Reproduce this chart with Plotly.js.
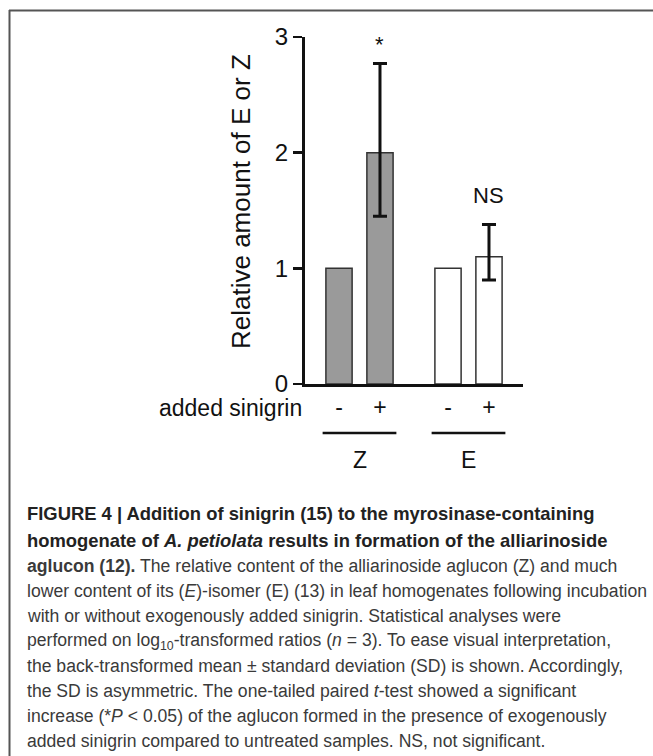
<!DOCTYPE html>
<html>
<head>
<meta charset="utf-8">
<script src="https://cdn.plot.ly/plotly-3.0.1.min.js"></script>
<style>html,body{margin:0;padding:0;background:#fff;}#chart{width:653px;height:756px;}</style>
</head>
<body>
<div id="chart"></div>
<script>
// ---- data ----
const groups = ["Z", "E"];
const treatments = ["-", "+"];
const zMeans = [1, 2.0];
const zUpper = [null, 2.77];
const zLower = [null, 1.45];
const eMeans = [1, 1.1];
const eUpper = [null, 1.38];
const eLower = [null, 0.90];
const zSig = ["", "*"];
const eSig = ["", "NS"];
const yTicks = [0, 1, 2, 3];
const xAxisLabel = "added sinigrin";
const yAxisTitle = "Relative amount of E or Z";
const captionLines = [
  "<b>FIGURE 4 | Addition of sinigrin (15) to the myrosinase-containing</b>",
  "<b>homogenate of <i>A. petiolata</i> results in formation of the alliarinoside</b>",
  "<b>aglucon (12).</b> The relative content of the alliarinoside aglucon (Z) and much",
  "lower content of its (<i>E</i>)-isomer (E) (13) in leaf homogenates following incubation",
  "with or without exogenously added sinigrin. Statistical analyses were",
  "performed on log<sub>10</sub>-transformed ratios (<i>n</i> = 3). To ease visual interpretation,",
  "the back-transformed mean ± standard deviation (SD) is shown. Accordingly,",
  "the SD is asymmetric. The one-tailed paired <i>t</i>-test showed a significant",
  "increase (*<i>P</i> &lt; 0.05) of the aglucon formed in the presence of exogenously",
  "added sinigrin compared to untreated samples. NS, not significant."
];

// ---- layout geometry ----
const FW = 653, FH = 756;
const L = 305, T = 37, R = 130, B = 372;
const PW = FW - L - R, PH = FH - T - B;
const px2x = p => (p - L) / PW;
const py2y = p => 1 - (p - T) / PH;

const groupStart = [0, 2.66];
const barW = 0.64;
const xs = g => treatments.map((t, i) => groupStart[g] + i);

const fontFam = "Liberation Sans, Arial, sans-serif";
const series = [
  { means: zMeans, up: zUpper, lo: zLower, sig: zSig, fill: "#9a9a9a" },
  { means: eMeans, up: eUpper, lo: eLower, sig: eSig, fill: "#ffffff" }
];

const traces = [];
const annotations = [];
series.forEach((s, g) => {
  s.means.forEach((m, i) => {
    const tr = { type: "bar", x: [xs(g)[i]], y: [m], width: barW,
      marker: { color: s.fill, line: { color: "#333", width: 1.5 } },
      hoverinfo: "none", showlegend: false };
    if (s.up[i] != null) {
      tr.error_y = { type: "data", symmetric: false, array: [s.up[i] - m], arrayminus: [m - s.lo[i]],
        color: "#111", thickness: 3, width: 7 };
    }
    traces.push(tr);
    if (s.sig[i]) {
      annotations.push({ x: xs(g)[i], y: (s.up[i] != null ? s.up[i] : m), xref: "x", yref: "y",
        yanchor: "middle", yshift: s.sig[i] === "*" ? 19 : 29, text: s.sig[i], showarrow: false,
        font: { family: fontFam, size: 22, color: "#111" } });
    }
  });
});
// group labels
groups.forEach((gname, g) => {
  const c = (xs(g)[0] + xs(g)[1]) / 2;
  annotations.push({ x: c, y: py2y(460), xref: "x", yref: "paper", xanchor: "center", yanchor: "middle",
    text: gname, showarrow: false, font: { family: fontFam, size: 23, color: "#111" } });
});
annotations.push({ x: px2x(304), y: py2y(408), xref: "paper", yref: "paper", xanchor: "right", yanchor: "middle",
  text: xAxisLabel, showarrow: false, font: { family: fontFam, size: 23, color: "#111" } });
annotations.push({ x: px2x(241), y: py2y(202), xref: "paper", yref: "paper", xanchor: "center", yanchor: "middle",
  textangle: -90, text: yAxisTitle, showarrow: false, font: { family: fontFam, size: 26, color: "#111" } });
// caption
const capY = [513, 540, 566, 591, 616, 641, 666, 691, 716, 741];
captionLines.forEach((t, i) => {
  annotations.push({ x: px2x(25), y: py2y(capY[i]), xref: "paper", yref: "paper",
    xanchor: "left", yanchor: "middle", align: "left", text: t, showarrow: false,
    font: { family: fontFam, size: i < 2 ? 18.4 : 17.6, color: i < 2 ? "#222" : "#3a3a3a" } });
});

// shapes: group underlines + frame
const shapes = [];
groups.forEach((gname, g) => {
  const c = (xs(g)[0] + xs(g)[1]) / 2;
  shapes.push({ type: "line", xref: "x", yref: "paper", x0: c - 0.9, x1: c + 0.9,
    y0: py2y(433), y1: py2y(433), line: { color: "#111", width: 2.5 } });
});
shapes.push({ type: "line", xref: "paper", yref: "paper", x0: px2x(9), x1: px2x(660),
  y0: py2y(10.5), y1: py2y(10.5), line: { color: "#555", width: 2 } });
shapes.push({ type: "line", xref: "paper", yref: "paper", x0: px2x(9.5), x1: px2x(9.5),
  y0: py2y(10), y1: py2y(760), line: { color: "#555", width: 2 } });

const layout = {
  width: FW, height: FH,
  margin: { l: L, r: R, t: T, b: B, pad: 0 },
  paper_bgcolor: "#fff", plot_bgcolor: "#fff",
  font: { family: fontFam, color: "#111" },
  barmode: "overlay",
  xaxis: {
    range: [-0.83, 4.49], tickvals: [...xs(0), ...xs(1)], ticktext: [...treatments, ...treatments],
    ticks: "", showline: true, linecolor: "#111", linewidth: 3, showgrid: false, zeroline: false,
    tickfont: { family: fontFam, size: 23, color: "#111" }, fixedrange: true
  },
  yaxis: {
    range: [0, 3], tickvals: yTicks, ticks: "outside", ticklen: 9, tickwidth: 2.5, tickcolor: "#111",
    showline: true, linecolor: "#111", linewidth: 3, showgrid: false, zeroline: false,
    tickfont: { family: fontFam, size: 24, color: "#111" }, fixedrange: true
  },
  annotations: annotations,
  shapes: shapes,
  showlegend: false
};

Plotly.newPlot("chart", traces, layout, { staticPlot: true, displayModeBar: false });
</script>
</body>
</html>
